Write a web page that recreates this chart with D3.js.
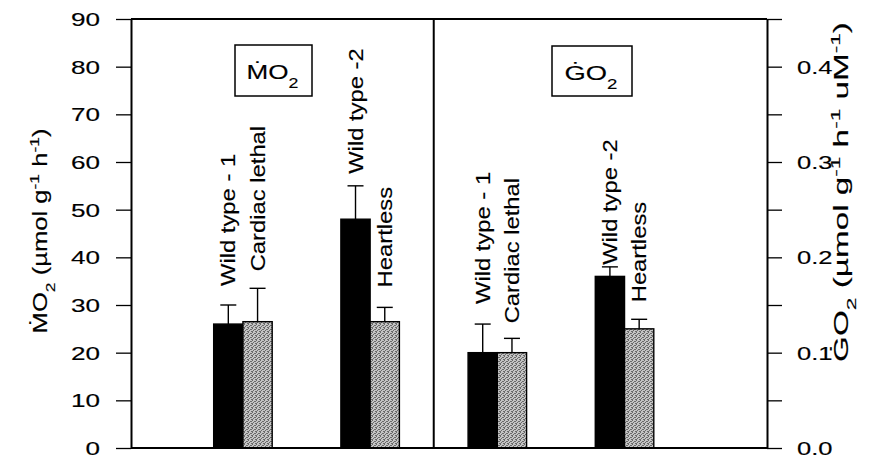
<!DOCTYPE html>
<html>
<head>
<meta charset="utf-8">
<script src="https://cdn.jsdelivr.net/npm/d3@7/dist/d3.min.js"></script>
<style>
  html, body { margin: 0; padding: 0; background: #fff; }
  svg { display: block; font-family: "Liberation Sans", Arial, Helvetica, sans-serif; }
  svg text { stroke: #000; stroke-width: 0.15px; }
</style>
</head>
<body>
<svg id="chart" width="885" height="464"></svg>
<script>
// ---- data ----
const strains = ["Wild type - 1", "Cardiac lethal", "Wild type -2", "Heartless"];
const mo2Mean = [26, 26.5, 48, 26.5];      // µmol g-1 h-1
const mo2Err  = [4, 7, 7, 3];
const go2Mean = [0.10, 0.10, 0.18, 0.125]; // µmol g-1 h-1 uM-1
const go2Err  = [0.03, 0.015, 0.01, 0.01];
const leftTicks  = [0, 10, 20, 30, 40, 50, 60, 70, 80, 90];
const rightTicks = [0, 0.05, 0.1, 0.15, 0.2, 0.25, 0.3, 0.35, 0.4, 0.45];
const rightLabelled = [0, 0.1, 0.2, 0.3, 0.4];

// ---- layout ----
const svg = d3.select("#chart");
const plot = { left: 131, right: 767, top: 19, bottom: 448 };
const x = d3.scaleLinear().domain([0.12, 5.12]).range([plot.left, plot.right]);
const yL = d3.scaleLinear().domain([0, 90]).range([plot.bottom, plot.top]);
const yR = d3.scaleLinear().domain([0, 0.45]).range([plot.bottom, plot.top]);
const barW = 0.23;         // in x units
const capW = 16;           // px
const labelGap = [19, 17, 12, 20, 20, 15, 2, 17]; // px between error cap and its rotated label
const FONT = 19.5;

// grey stipple fill
const defs = svg.append("defs");
const pat = defs.append("pattern").attr("id", "stipple")
  .attr("patternUnits", "userSpaceOnUse").attr("width", 4).attr("height", 4);
pat.append("rect").attr("width", 4).attr("height", 4).attr("fill", "#c4c4c4");
[[0, 0], [2, 1], [1, 2], [3, 3], [0, 3], [3, 1]].forEach(([px, py]) =>
  pat.append("rect").attr("x", px).attr("y", py).attr("width", 1).attr("height", 1).attr("fill", "#6a6a6a"));

// rich text with sub/superscripts
function richText(parent, parts, size, anchor) {
  const t = parent.append("text").attr("font-size", size).attr("text-anchor", anchor || "start").attr("fill", "#000");
  let shift = 0;
  parts.forEach(p => {
    const target = p.sub ? size * 0.42 : p.sup ? -size * 0.42 : 0;
    t.append("tspan")
      .attr("dy", target - shift)
      .attr("font-size", (p.sub || p.sup) ? size * 0.68 : size)
      .text(p.t);
    shift = target;
  });
  return t;
}

// text stretched along its reading direction to span a given length
function fittedText(x0, y0, angle, parts, size, length, anchor) {
  const g = svg.append("g").attr("transform", `translate(${x0},${y0}) rotate(${angle})`);
  const inner = g.append("g");
  const t = richText(inner, parts, size, anchor);
  const w = t.node().getBBox().width;
  inner.attr("transform", `scale(${length / w},1)`);
  return t;
}

// ---- bars: left panel MO2, right panel GO2; pairs (WT-1, CL) and (WT-2, HL) ----
const bars = [];
[0, 1].forEach(panel => {
  [0, 1].forEach(pair => {
    [0, 1].forEach(side => {
      const idx = pair * 2 + side;
      bars.push({
        strain: strains[idx],
        pos: panel * 2 + pair + 1,
        side: side,
        value: panel === 0 ? mo2Mean[idx] : go2Mean[idx],
        err: panel === 0 ? mo2Err[idx] : go2Err[idx],
        scale: panel === 0 ? yL : yR
      });
    });
  });
});
bars.forEach((b, i) => { b.gap = labelGap[i]; });

const bx = b => b.side === 0 ? x(b.pos - barW) : x(b.pos);
const bw = x(barW) - x(0);

svg.append("g").selectAll("rect").data(bars).join("rect")
  .attr("x", bx)
  .attr("y", b => b.scale(b.value))
  .attr("width", bw)
  .attr("height", b => plot.bottom - b.scale(b.value))
  .attr("fill", b => b.side === 0 ? "#000" : "url(#stipple)")
  .attr("stroke", "#000")
  .attr("stroke-width", 1.4);

// error bars (upper only)
const eb = svg.append("g").attr("stroke", "#000").attr("stroke-width", 1.4);
bars.forEach(b => {
  const cx = bx(b) + bw / 2;
  const top = b.scale(b.value + b.err);
  eb.append("line").attr("x1", cx).attr("x2", cx).attr("y1", b.scale(b.value)).attr("y2", top);
  eb.append("line").attr("x1", cx - capW / 2).attr("x2", cx + capW / 2).attr("y1", top).attr("y2", top);
});

// rotated strain labels
bars.forEach(b => {
  const cx = bx(b) + bw / 2;
  const top = b.scale(b.value + b.err);
  const g = svg.append("g")
    .attr("transform", `translate(${cx + 7},${top - b.gap}) rotate(-90) scale(1.22,1)`);
  richText(g, [{ t: b.strain }], FONT, "start");
});

// ---- axes ----
const axL = svg.append("g").attr("transform", `translate(${plot.left},0)`)
  .call(d3.axisLeft(yL).tickValues(leftTicks).tickSize(15).tickSizeOuter(0).tickFormat(d3.format("d")));
const axR = svg.append("g").attr("transform", `translate(${plot.right},0)`)
  .call(d3.axisRight(yR).tickValues(rightTicks).tickSize(15).tickSizeOuter(0)
    .tickFormat(d => rightLabelled.some(v => Math.abs(v - d) < 1e-9) ? d3.format(".1f")(d) : ""));

[axL, axR].forEach(a => {
  a.attr("font-family", null).attr("font-size", null);
  a.select(".domain").attr("stroke", "#000").attr("stroke-width", 2);
  a.selectAll(".tick line").attr("stroke", "#000").attr("stroke-width", 1.3);
  a.selectAll(".tick text").attr("fill", "#000").attr("font-size", 18).attr("dy", "0.36em");
});
axL.selectAll(".tick text").attr("x", 0).attr("transform", "translate(-31,0) scale(1.45,1)");
axR.selectAll(".tick text").attr("x", 0).attr("transform", "translate(30,0) scale(1.42,1)");

// frame top / bottom and panel divider
const frame = svg.append("g").attr("stroke", "#000").attr("stroke-width", 2);
frame.append("line").attr("x1", plot.left).attr("x2", plot.right).attr("y1", yL(90)).attr("y2", yL(90));
frame.append("line").attr("x1", plot.left).attr("x2", plot.right).attr("y1", yL(0)).attr("y2", yL(0));
frame.append("line").attr("x1", x(2.5)).attr("x2", x(2.5)).attr("y1", yL(90)).attr("y2", yL(0));

// ---- panel boxes ----
function panelBox(x0, x1, y0, y1, letter, textLen) {
  svg.append("rect").attr("x", x0).attr("y", y0).attr("width", x1 - x0).attr("height", y1 - y0)
    .attr("fill", "#fff").attr("stroke", "#000").attr("stroke-width", 1.5);
  fittedText((x0 + x1) / 2 - 1, y0 + 34, 0, [{ t: letter + "O" }, { t: "2", sub: true }], 21, textLen, "middle");
}
panelBox(235, 312, 45, 96, "\u1E40", 52);
panelBox(552, 632, 46, 96, "\u0120", 53);

// ---- axis titles ----
fittedText(47, 231, -90, [
  { t: "\u1E40O" }, { t: "2", sub: true }, { t: " (\u00B5mol g" }, { t: "-1", sup: true },
  { t: " h" }, { t: "-1", sup: true }, { t: ")" }
], FONT, 205, "middle");

fittedText(848, 192, -90, [
  { t: "\u0120O" }, { t: "2", sub: true }, { t: " (\u00B5mol g" }, { t: "-1", sup: true },
  { t: " h" }, { t: "-1", sup: true }, { t: " uM" }, { t: "-1", sup: true }, { t: ")" }
], 20, 340, "middle");
</script>
</body>
</html>
